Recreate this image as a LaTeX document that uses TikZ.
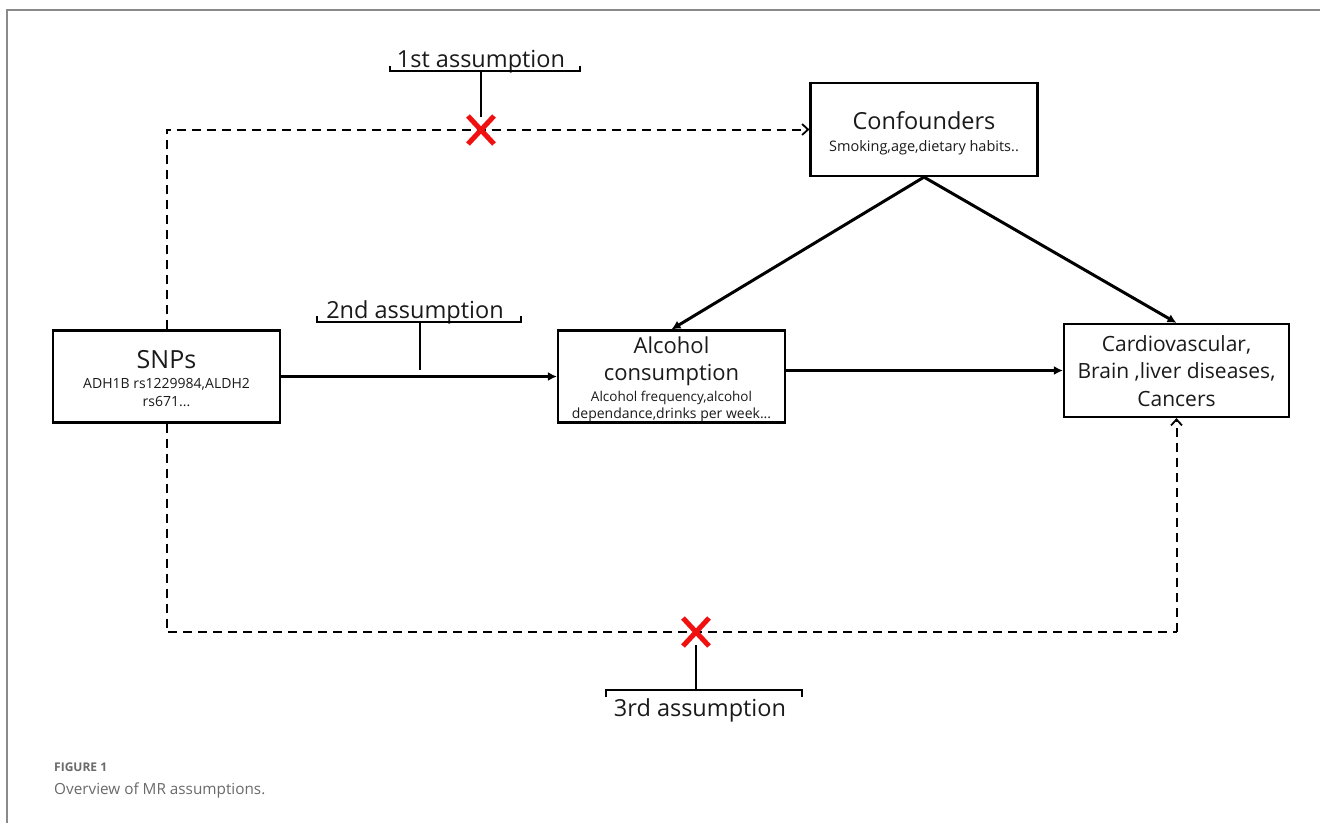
\documentclass[tikz,border=0pt]{standalone}
\usepackage{fontspec}
\setmainfont{Open Sans}
\usetikzlibrary{arrows.meta,calc}
\definecolor{framegray}{HTML}{8A8A8A}
\definecolor{capgray}{HTML}{6A6A6A}
\definecolor{xred}{HTML}{F01010}
\definecolor{txt}{HTML}{1A1A1A}
\tikzset{
  box/.style={draw=black,line width=2.2pt,inner sep=0pt},
  tl/.style={anchor=base,inner sep=0pt,text=txt},
  solidarrow/.style={line width=3pt,-{Latex[length=9pt,width=9pt]}},
  dasharrow/.style={line width=2pt,dash pattern=on 9pt off 6pt,-{Straight Barb[length=6pt,width=11pt,line width=1.8pt]}},
  dashline/.style={line width=2pt,dash pattern=on 9pt off 6pt},
  bracket/.style={line width=2pt},
  lead/.style={line width=1.8pt},
  redx/.style={xred,line width=5pt},
  asm/.style={tl,font=\fontsize{23.5}{28}\selectfont},
}
\begin{document}
\begin{tikzpicture}[x=1pt,y=-1pt]
\useasboundingbox (0,0) rectangle (1320,823);
\fill[white] (0,0) rectangle (1320,823);
\draw[framegray,line width=1.2pt] (7,823) -- (7,10) -- (1320,10);

% boxes
\node[box,minimum width=227pt,minimum height=93pt] (conf) at (924,129.5) {};
\node[box,minimum width=227pt,minimum height=92pt] (snp) at (166.5,376.5) {};
\node[box,minimum width=227pt,minimum height=92pt] (alc) at (671.5,376.5) {};
\node[box,minimum width=225pt,minimum height=93pt] (out) at (1176.5,370.5) {};

% box texts
\node[tl,font=\fontsize{23.5}{28}\selectfont] (conft) at (924,129) {Confounders};
\node[tl,font=\fontsize{14.5}{17}\selectfont] (confs) at (924,151) {Smoking,age,dietary habits..};
\node[tl,font=\fontsize{25}{28}\selectfont] (snpt) at (166.5,368) {SNPs};
\node[tl,font=\fontsize{14}{17}\selectfont] (snps1) at (166.5,388) {ADH1B rs1229984,ALDH2};
\node[tl,font=\fontsize{14}{17}\selectfont] (snps2) at (166.5,406) {rs671...};
\node[tl,font=\fontsize{22}{26}\selectfont] (alct1) at (671.5,353) {Alcohol};
\node[tl,font=\fontsize{22}{26}\selectfont] (alct2) at (671.5,380) {consumption};
\node[tl,font=\fontsize{13.5}{16}\selectfont] (alcs1) at (671.5,401) {Alcohol frequency,alcohol};
\node[tl,font=\fontsize{14}{16}\selectfont] (alcs2) at (671.5,418) {dependance,drinks per week...};
\node[tl,font=\fontsize{21}{25}\selectfont] (outt1) at (1176.5,351) {Cardiovascular,};
\node[tl,font=\fontsize{21}{25}\selectfont] (outt2) at (1176.5,378) {Brain ,liver diseases,};
\node[tl,font=\fontsize{21}{25}\selectfont] (outt3) at (1176.5,406) {Cancers};

% solid arrows
\draw[solidarrow] (snp.east) -- (alc.west);
\draw[solidarrow] (alc.east |- out.west) -- (out.west);
\draw[solidarrow] (conf.south) -- (alc.north);
\draw[solidarrow] (conf.south) -- (out.north);

% dashed paths
\draw[dasharrow] (snp.north) |- (conf.west);
\coordinate (b2) at (1176.5,632);
\draw[dashline] (snp.south) |- (b2);
\draw[dasharrow] (b2) -- (out.south);

% red crosses
\coordinate (x1) at (481,130);
\coordinate (x3) at (696,632);
\draw[redx] ($(x1)+(-13,-14)$) -- ($(x1)+(13,14)$) ($(x1)+(13,-14)$) -- ($(x1)+(-13,14)$);
\draw[redx] ($(x3)+(-13,-14)$) -- ($(x3)+(13,14)$) ($(x3)+(13,-14)$) -- ($(x3)+(-13,14)$);

% 1st assumption
\node[asm] (a1) at (481,67) {1st assumption};
\coordinate (a1b) at (481,71);
\draw[bracket] (390,66) -- (390,71) -- (580,71) -- (580,66);
\draw[lead] (a1b) -- ($(x1)+(0,-13)$);

% 2nd assumption
\node[asm] (a2) at (415,318) {2nd assumption};
\coordinate (a2b) at (420,322);
\coordinate (a2e) at (420,370);
\draw[bracket] (317,316) -- (317,322) -- (521,322) -- (521,316);
\draw[lead] (a2b) -- (a2e);

% 3rd assumption
\node[asm] (a3) at (700,716) {3rd assumption};
\coordinate (a3b) at (696,690);
\draw[bracket] (606,697) -- (606,690) -- (802,690) -- (802,697);
\draw[lead] ($(x3)+(0,13)$) -- (a3b);

% caption
\node[anchor=west,inner sep=0pt,text=capgray,font=\fontsize{12}{14}\selectfont\bfseries] (fig) at (54,767) {FIGURE 1};
\node[anchor=west,inner sep=0pt,text=capgray,font=\fontsize{15.3}{19}\selectfont] (capt) at (54,790) {Overview of MR assumptions.};
\end{tikzpicture}
\end{document}
